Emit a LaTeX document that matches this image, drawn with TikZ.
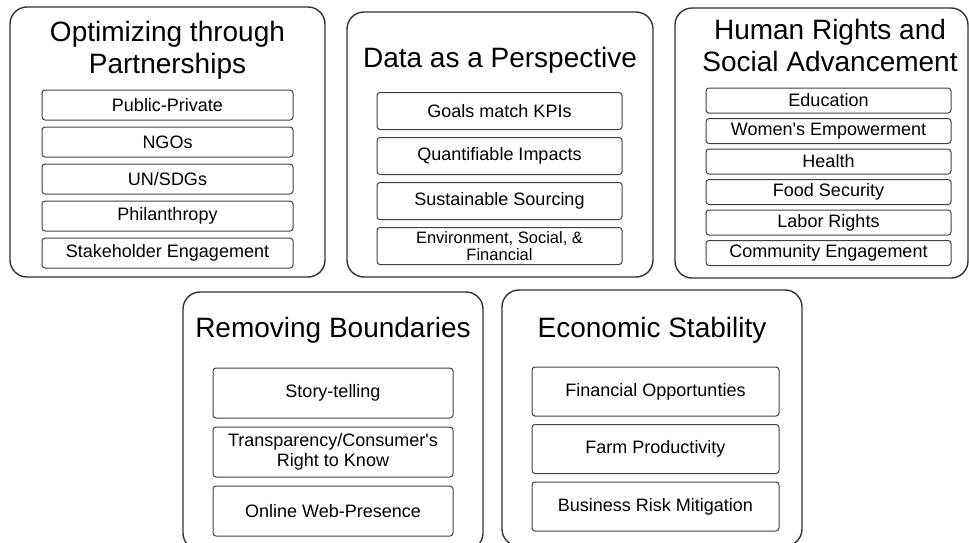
\documentclass[tikz,border=0pt]{standalone}
\usepackage{fontspec}
\setmainfont{Liberation Sans}
\usetikzlibrary{positioning}

\begin{document}
\begin{tikzpicture}[x=1pt, y=-1pt,
        frame/.style={draw=black!80, line width=1.4pt, rounded corners=17pt, inner sep=0pt},
        heading/.style={align=center, inner sep=0pt, font=\fontsize{28}{32}\selectfont},
        item/.style={draw=black!75, line width=1pt, rounded corners=3pt, align=center,
            inner sep=0pt, font=\fontsize{18}{20}\selectfont}]
        \useasboundingbox (0, 0) rectangle (969, 542);
        \clip (0, 0) rectangle (969, 542);
        % top row
        \node [frame, minimum width=315pt, minimum height=270pt] (partners) at (167.5, 142) {};
        \node [heading] (partnerstitle) at (167.5, 50) {Optimizing through\\Partnerships};
        \begin{scope}[item/.append style={minimum width=251pt, minimum height=30pt}]
            \node [item] (pubpriv) at (167.5, 105) {Public-Private};
            \node [item, below=6pt of pubpriv] (ngos) {NGOs};
            \node [item, below=6pt of ngos] (unsdg) {UN/SDGs};
            \node [item, below=6pt of unsdg] (philan) {Philanthropy};
            \node [item, below=6pt of philan] (stake) {Stakeholder Engagement};
        \end{scope}
        \node [frame, minimum width=306pt, minimum height=265pt] (data) at (500, 144.5) {};
        \node [heading] (datatitle) at (500, 60) {Data as a Perspective};
        \begin{scope}[item/.append style={minimum width=245pt, minimum height=37pt}]
            \node [item] (kpis) at (499.5, 111) {Goals match KPIs};
            \node [item, below=7pt of kpis] (impacts) {Quantifiable Impacts};
            \node [item, below=7pt of impacts] (sourcing) {Sustainable Sourcing};
            \node [item, below=7pt of sourcing, font=\fontsize{16.5}{17}\selectfont] (esf)
                {Environment, Social, \&\\Financial};
        \end{scope}
        \node [frame, minimum width=293pt, minimum height=270pt] (rights) at (821.5, 143) {};
        \node [heading] (rightstitle) at (830, 45) {Human Rights and\\Social Advancement};
        \begin{scope}[item/.append style={minimum width=245pt, minimum height=25pt}]
            \node [item] (educ) at (828.5, 100.5) {Education};
            \node [item, below=4.5pt of educ] (women) {Women\textquotesingle s Empowerment};
            \node [item, below=4.5pt of women] (health) {Health};
            \node [item, below=4.5pt of health] (food) {Food Security};
            \node [item, below=4.5pt of food] (labor) {Labor Rights};
            \node [item, below=4.5pt of labor] (commun) {Community Engagement};
        \end{scope}
        % bottom row
        \node [frame, minimum width=300pt, minimum height=258pt] (bounds) at (333, 421) {};
        \node [heading] (boundstitle) at (333, 330) {Removing Boundaries};
        \begin{scope}[item/.append style={minimum width=240pt, minimum height=50pt}]
            \node [item] (story) at (333, 393) {Story-telling};
            \node [item, below=8pt of story] (transp) {Transparency/Consumer\textquotesingle s\\Right to Know};
            \node [item, below=8pt of transp] (online) {Online Web-Presence};
        \end{scope}
        \node [frame, minimum width=300pt, minimum height=256pt] (econ) at (652, 418) {};
        \node [heading] (econtitle) at (652, 330) {Economic Stability};
        \begin{scope}[item/.append style={minimum width=247pt, minimum height=49pt}]
            \node [item] (finopp) at (655.5, 391.5) {Financial Opportunties};
            \node [item, below=7.5pt of finopp] (farm) {Farm Productivity};
            \node [item, below=7.5pt of farm] (risk) {Business Risk Mitigation};
        \end{scope}
    \end{tikzpicture}
\end{document}
